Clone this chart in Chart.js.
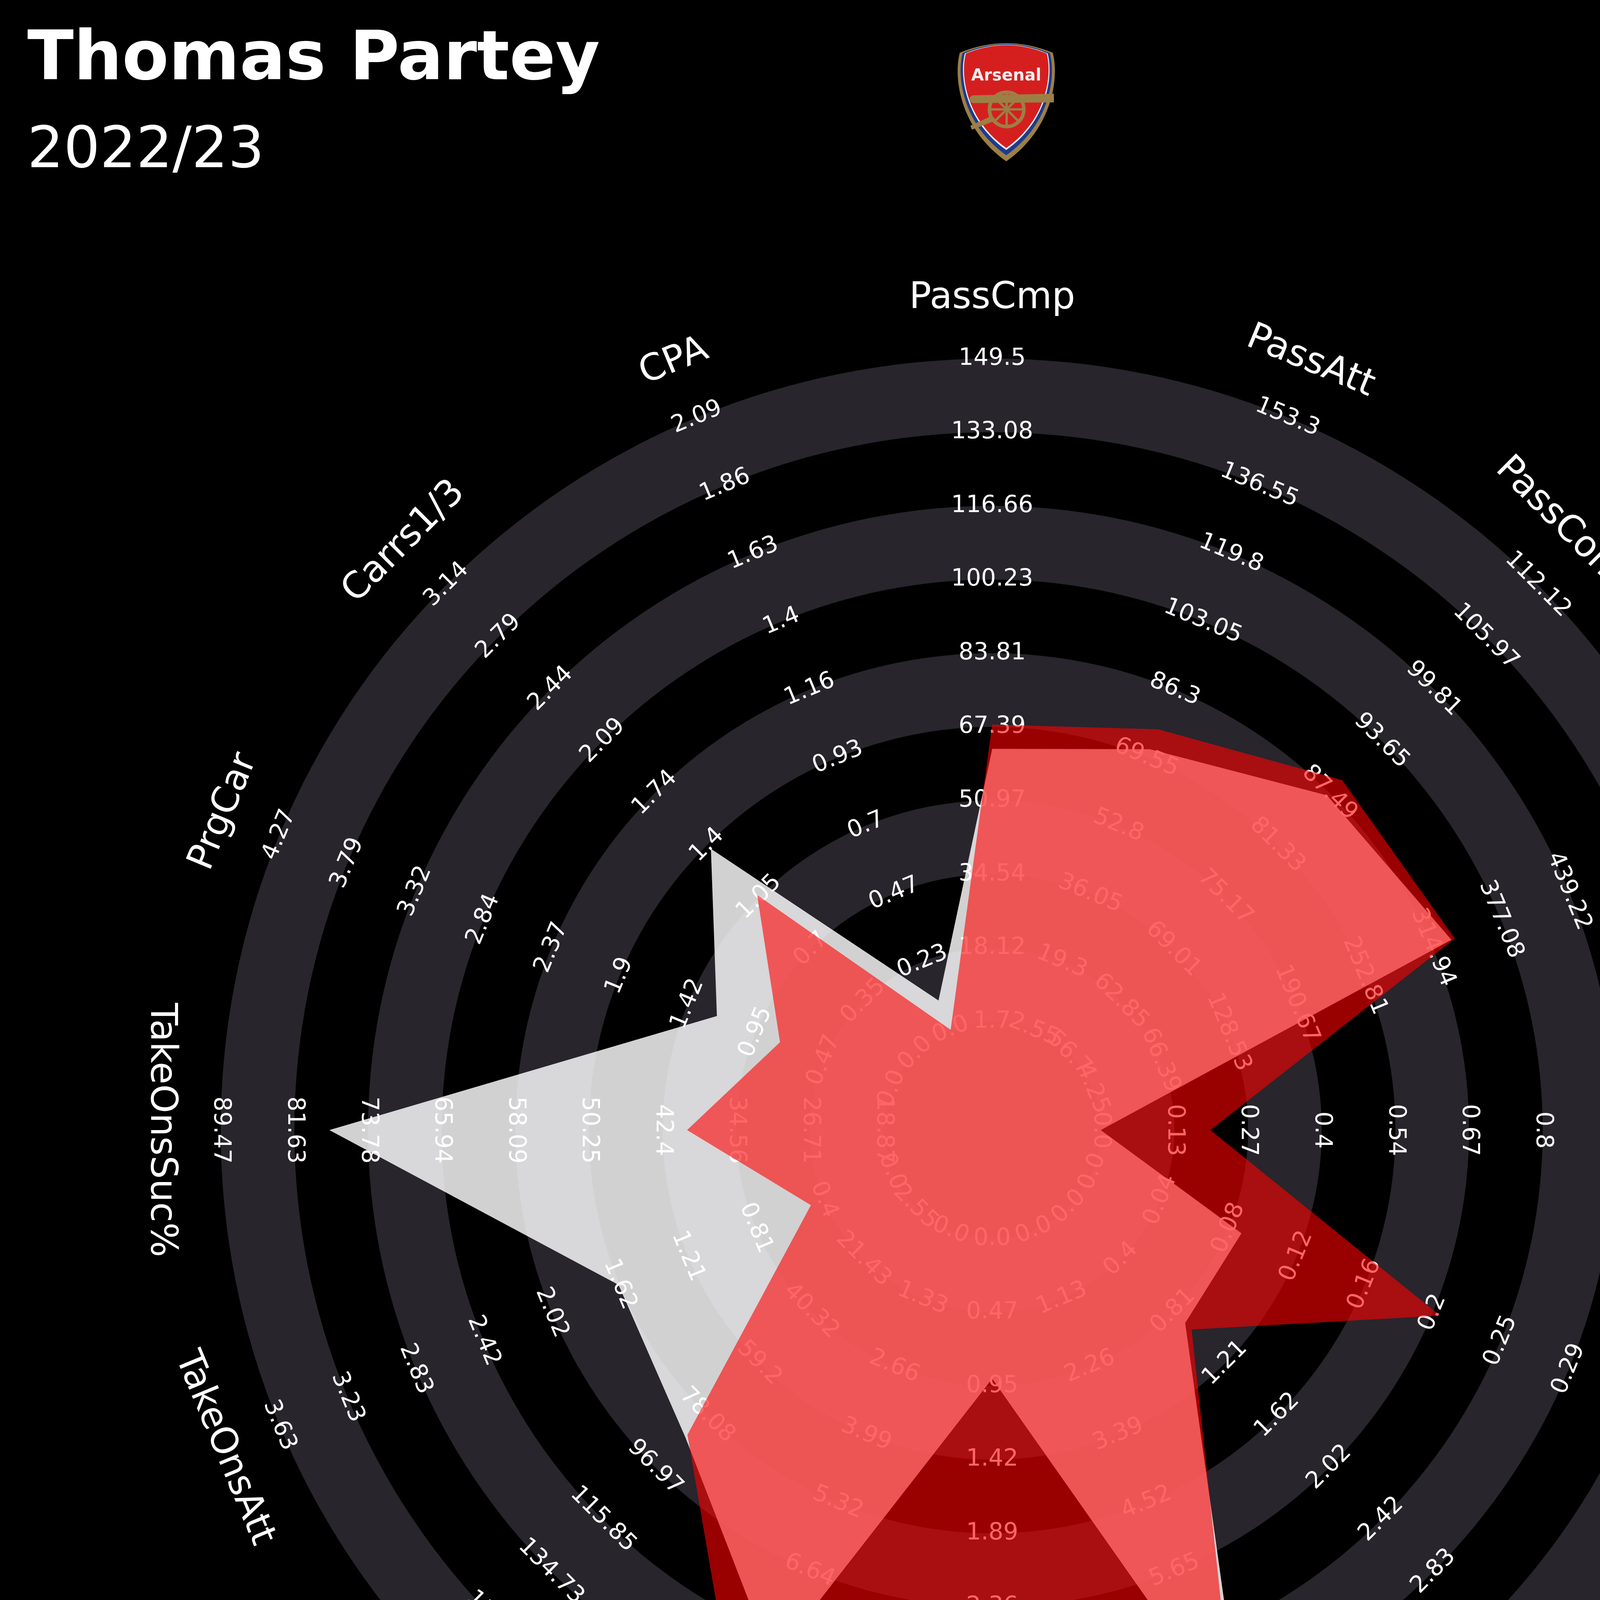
<!DOCTYPE html>
<html>
<head>
<meta charset="utf-8">
<title>Thomas Partey vs Jorginho</title>
<script src="https://cdn.jsdelivr.net/npm/chart.js@4"></script>
<style>
html,body{margin:0;padding:0;background:#000;}
#radar{display:block;width:5080px;height:5624px;}
</style>
</head>
<body>
<canvas id="radar" width="5080" height="5624"></canvas>
<script>
// ---- data ----
const params=["PassCmp","PassAtt","PassComp%","PassPrgDist","Assists","xA","KP","IntoFin1/3",
"PPA","ProgPass","Touches","TakeOnsAtt","TakeOnsSuc%","PrgCar","Carrs1/3","CPA"];
const rangeMin=[1.7,2.55,56.7,4.25,0,0,0,0,0,0,2.55,0,18.87,0,0,0];
const rangeMax=[149.5,153.3,112.12,563.5,1.21,0.37,3.63,10.17,4.26,11.96,172.5,3.63,89.47,4.27,3.14,2.09];
const partey=[62.5,71.6,87.2,332,0,0.09,0.9,8.39,0.9,8.41,86,1.62,77.9,1.22,1.37,0.1];
const jorginho=[67.9,76.5,89.0,335,0.2,0.21,0.95,7.97,2.47,9.94,85.2,0.48,39.8,0.78,1.06,0];
const tickLabels=[
["1.7","18.12","34.54","50.97","67.39","83.81","100.23","116.66","133.08","149.5"],
["2.55","19.3","36.05","52.8","69.55","86.3","103.05","119.8","136.55","153.3"],
["56.7","62.85","69.01","75.17","81.33","87.49","93.65","99.81","105.97","112.12"],
["4.25","66.39","128.53","190.67","252.81","314.94","377.08","439.22","501.36","563.5"],
["0.0","0.13","0.27","0.4","0.54","0.67","0.8","0.94","1.07","1.21"],
["0.0","0.04","0.08","0.12","0.16","0.2","0.25","0.29","0.33","0.37"],
["0.0","0.4","0.81","1.21","1.62","2.02","2.42","2.83","3.23","3.63"],
["0.0","1.13","2.26","3.39","4.52","5.65","6.78","7.91","9.04","10.17"],
["0.0","0.47","0.95","1.42","1.89","2.36","2.84","3.31","3.78","4.26"],
["0.0","1.33","2.66","3.99","5.32","6.64","7.97","9.3","10.63","11.96"],
["2.55","21.43","40.32","59.2","78.08","96.97","115.85","134.73","153.62","172.5"],
["0.0","0.4","0.81","1.21","1.62","2.02","2.42","2.83","3.23","3.63"],
["18.87","26.71","34.56","42.4","50.25","58.09","65.94","73.78","81.63","89.47"],
["0.0","0.47","0.95","1.42","1.9","2.37","2.84","3.32","3.79","4.27"],
["0.0","0.35","0.7","1.05","1.4","1.74","2.09","2.44","2.79","3.14"],
["0.0","0.23","0.47","0.7","0.93","1.16","1.4","1.63","1.86","2.09"]
];

// ring units: first range label sits INNER units from centre, then one unit per step
const INNER=1.474;
const RINGS=9;
const LABEL_R=11.29;
const FONT='"DejaVu Sans"';

function toRing(v,i){
return INNER+RINGS*(v-rangeMin[i])/(rangeMax[i]-rangeMin[i]);
}
function labelRot(i){
const a=i*360/params.length;
if(a<=90)return a;
if(a<=270)return a-180;
return a-360;
}
function rotText(ctx,txt,x,y,deg){
ctx.save();
ctx.translate(x,y);
ctx.rotate(deg*Math.PI/180);
ctx.fillText(txt,0,0);
ctx.restore();
}

function crestPath(ctx,s,cx,cy){
const P=(x,y)=>[cx+(x-cx)*s,cy+(y-cy)*s];
ctx.beginPath();
let p=P(2457,135);ctx.moveTo(p[0],p[1]);
let c=P(2576,86);p=P(2695,135);ctx.quadraticCurveTo(c[0],c[1],p[0],p[1]);
let c1=P(2712,200),c2=P(2694,330);p=P(2576,413);
ctx.bezierCurveTo(c1[0],c1[1],c2[0],c2[1],p[0],p[1]);
c1=P(2458,330);c2=P(2440,200);p=P(2457,135);
ctx.bezierCurveTo(c1[0],c1[1],c2[0],c2[1],p[0],p[1]);
ctx.closePath();
}
function drawCrest(ctx){
const cx=2576,cy=150;
crestPath(ctx,1,cx,cy);ctx.fillStyle="#9c7f45";ctx.fill();
crestPath(ctx,0.94,cx,cy);ctx.fillStyle="#1d3b8f";ctx.fill();
crestPath(ctx,0.89,cx,cy);ctx.fillStyle="#f2f2f2";ctx.fill();
crestPath(ctx,0.87,cx,cy);ctx.fillStyle="#d51f1f";ctx.fill();
ctx.fillStyle="#eeeeee";
ctx.font="bold 42px "+FONT;
ctx.textAlign="center";ctx.textBaseline="alphabetic";
ctx.fillText("Arsenal",cx,206);
// cannon
ctx.fillStyle="#9c7f45";
ctx.beginPath();
ctx.moveTo(2492,244);ctx.lineTo(2698,240);ctx.lineTo(2698,262);ctx.lineTo(2492,264);
ctx.arc(2492,254,10,Math.PI/2,Math.PI*1.5);
ctx.fill();
ctx.beginPath();
ctx.moveTo(2540,296);ctx.lineTo(2484,322);ctx.lineTo(2488,332);ctx.lineTo(2550,308);
ctx.fill();
ctx.strokeStyle="#9c7f45";
ctx.lineWidth=9;
ctx.beginPath();ctx.arc(2577,280,44,0,Math.PI*2);ctx.stroke();
ctx.lineWidth=6;
for(let k=0;k<8;k++){
const a=k*Math.PI/4;
ctx.beginPath();
ctx.moveTo(2577+Math.cos(a)*8,280+Math.sin(a)*8);
ctx.lineTo(2577+Math.cos(a)*42,280+Math.sin(a)*42);
ctx.stroke();
}
ctx.beginPath();ctx.arc(2577,280,8,0,Math.PI*2);ctx.fillStyle="#9c7f45";ctx.fill();
}

const radarDecor={
id:"radarDecor",
beforeDraw(chart){
const ctx=chart.ctx;
ctx.save();
ctx.fillStyle="#000";
ctx.fillRect(0,0,chart.width,chart.height);
ctx.restore();
},
beforeDatasetsDraw(chart){
const ctx=chart.ctx,s=chart.scales.r;
ctx.save();
// alternating bands, outermost first
for(let k=RINGS;k>=0;k--){
ctx.beginPath();
ctx.arc(s.xCenter,s.yCenter,s.getDistanceFromCenterForValue(INNER+k),0,Math.PI*2);
ctx.fillStyle=(k%2===1)?"#28252c":"#000";
ctx.fill();
}
// range labels on every spoke
ctx.fillStyle="#fff";
ctx.font="60px "+FONT;
ctx.textAlign="center";
ctx.textBaseline="middle";
params.forEach((p,i)=>{
tickLabels[i].forEach((t,k)=>{
const pt=s.getPointPositionForValue(i,INNER+k);
rotText(ctx,t,pt.x,pt.y,labelRot(i));
});
});
// parameter names
ctx.font="94px "+FONT;
params.forEach((p,i)=>{
const pt=s.getPointPositionForValue(i,LABEL_R);
rotText(ctx,p,pt.x,pt.y,labelRot(i));
});
ctx.restore();
},
afterDraw(chart){
const ctx=chart.ctx;
ctx.save();
ctx.textBaseline="alphabetic";
ctx.textAlign="left";
ctx.fillStyle="#fff";
ctx.font="bold 174px "+FONT;
ctx.fillText("Thomas Partey",70,203);
ctx.font="146px "+FONT;
ctx.fillText("2022/23",70,428);
ctx.textAlign="right";
ctx.fillStyle="#ff0000";
ctx.font="bold 174px "+FONT;
ctx.fillText("Jorginho",5008,203);
ctx.font="146px "+FONT;
ctx.fillText("2023/24",5008,428);
ctx.fillStyle="#008000";
ctx.font="86px "+FONT;
ctx.fillText("Inspired By: Statsbomb / Rami Moghadam",5008,5312);
ctx.fillText("mossystats",5008,5537);
drawCrest(ctx);
ctx.restore();
}
};

new Chart(document.getElementById("radar"),{
type:"radar",
data:{
labels:params,
datasets:[
{label:"Jorginho 2023/24",data:jorginho.map(toRing),backgroundColor:"rgba(255,0,0,0.6)",
borderColor:"rgba(0,0,0,0)",borderWidth:0,pointRadius:0,pointHoverRadius:0,fill:true},
{label:"Thomas Partey 2022/23",data:partey.map(toRing),backgroundColor:"rgba(255,255,255,0.82)",
borderColor:"rgba(0,0,0,0)",borderWidth:0,pointRadius:0,pointHoverRadius:0,fill:true}
]
},
options:{
responsive:false,
devicePixelRatio:1,
animation:false,
layout:{padding:{left:565,right:565,top:918,bottom:756}},
plugins:{legend:{display:false},tooltip:{enabled:false}},
elements:{line:{tension:0}},
scales:{
r:{
min:0,
max:INNER+RINGS,
startAngle:0,
ticks:{display:false},
grid:{display:false},
angleLines:{display:false},
pointLabels:{display:false}
}
}
},
plugins:[radarDecor]
});
</script>
</body>
</html>
